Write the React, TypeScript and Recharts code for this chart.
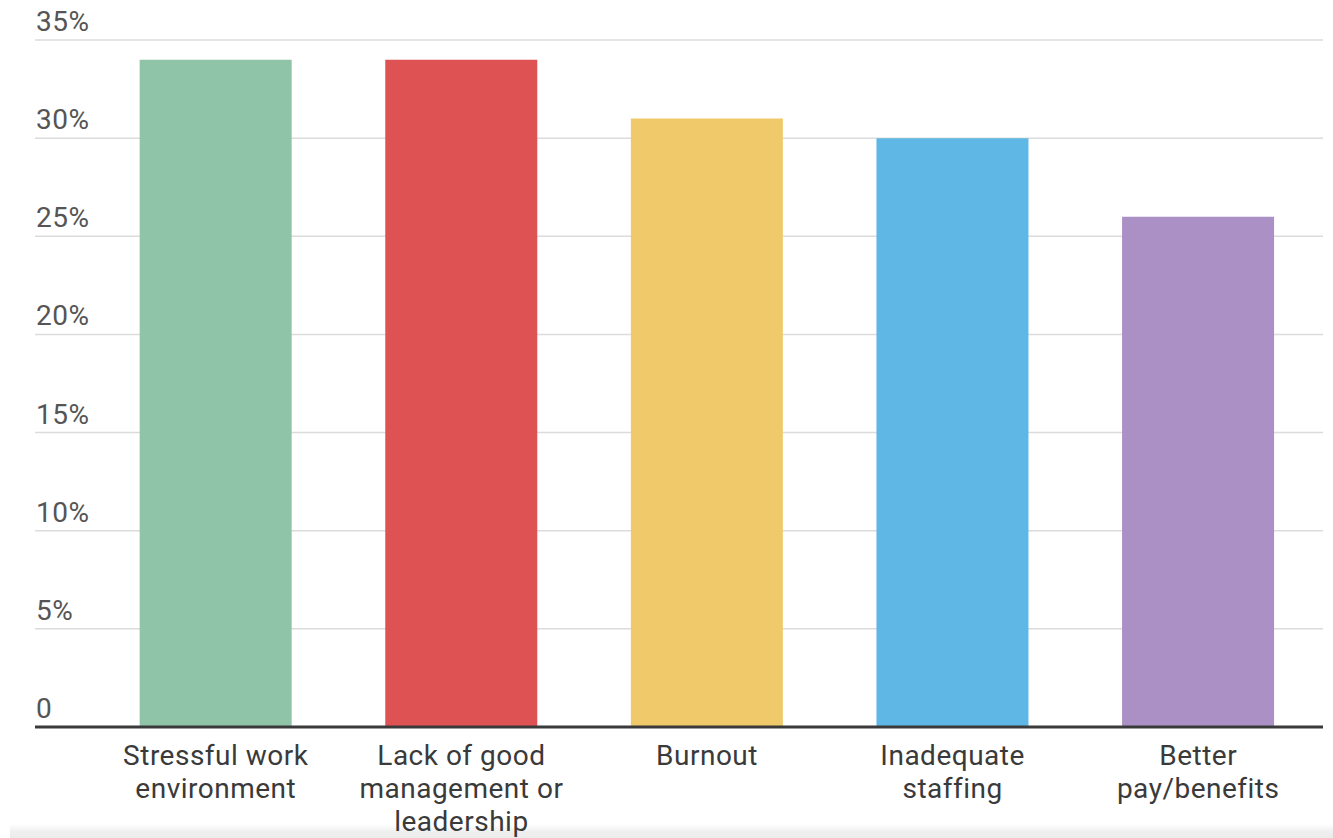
import React from 'react';
import { BarChart, Bar, XAxis, YAxis, CartesianGrid, Cell } from 'recharts';

const categories = [
  'Stressful work\nenvironment',
  'Lack of good\nmanagement or\nleadership',
  'Burnout',
  'Inadequate\nstaffing',
  'Better\npay/benefits',
];
const values = [34, 34, 31, 30, 26];
const colors = ['#8fc4a8', '#de5254', '#efc96a', '#5eb7e5', '#ab90c5'];
const yTicks = [0, 5, 10, 15, 20, 25, 30, 35];

const data = categories.map((name, i) => ({ name, value: values[i] }));

const FONT = 'Roboto, "Noto Sans", sans-serif';

function XTick(props: any) {
  const { x, y, payload } = props;
  const lines = String(payload.value).split('\n');
  return (
    <text x={x} y={y} textAnchor="middle" fill="#3a3a3a" fontSize={28} letterSpacing={0.5} fontFamily={FONT}>
      {lines.map((l, i) => (
        <tspan key={i} x={x} dy={i === 0 ? 30 : 33}>
          {l}
        </tspan>
      ))}
    </text>
  );
}

function YTick(props: any) {
  const { y, payload } = props;
  const v = payload.value;
  return (
    <text x={36} y={y - 9} textAnchor="start" fill="#555" fontSize={28} letterSpacing={0.5} fontFamily={FONT}>
      {v === 0 ? '0' : `${v}%`}
    </text>
  );
}

export default function App() {
  return (
    <div style={{ position: 'absolute', left: 0, top: 0, width: 1333, height: 838, background: '#fff' }}>
      <div
        style={{
          position: 'absolute',
          left: 10,
          top: 824,
          width: 1323,
          height: 14,
          background: 'linear-gradient(to bottom, #ffffff 0%, #efefef 55%, #ececec 100%)',
        }}
      />
      <div style={{ position: 'absolute', left: 0, top: 0 }}>
        <BarChart
          width={1333}
          height={838}
          data={data}
          margin={{ top: 40, right: 10, bottom: 0, left: 34 }}
          barCategoryGap="19%"
        >
          <CartesianGrid vertical={false} stroke="#dcdcdc" strokeWidth={1.5} />
          <XAxis
            dataKey="name"
            interval={0}
            height={111}
            tickLine={false}
            axisLine={{ stroke: '#3a3a3a', strokeWidth: 3 }}
            padding={{ left: 58, right: 2 }}
            tick={<XTick />}
          />
          <YAxis
            width={1}
            domain={[0, 35]}
            ticks={yTicks}
            interval={0}
            axisLine={false}
            tickLine={false}
            tick={<YTick />}
          />
          <Bar dataKey="value" isAnimationActive={false}>
            {data.map((d, i) => (
              <Cell key={d.name} fill={colors[i]} />
            ))}
          </Bar>
        </BarChart>
      </div>
    </div>
  );
}
